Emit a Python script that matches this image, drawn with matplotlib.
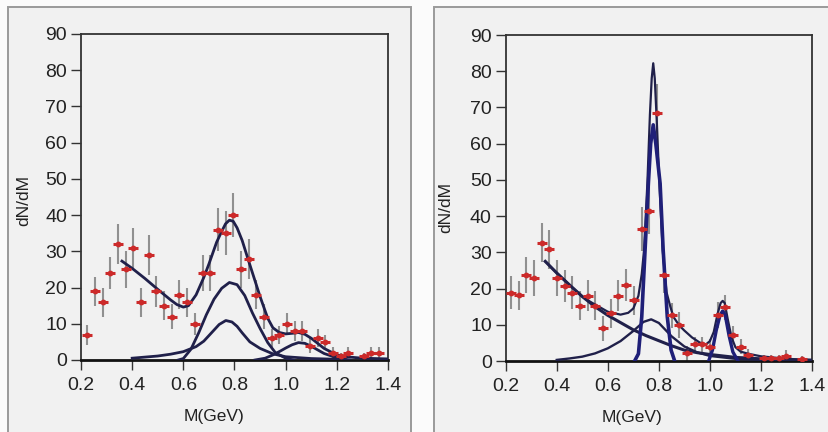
import matplotlib
matplotlib.use("Agg")
import matplotlib.pyplot as plt
from matplotlib.patches import Rectangle

# ---------------- data: left panel ----------------
left_x = [0.225, 0.255, 0.285, 0.315, 0.345, 0.375, 0.405, 0.435, 0.465, 0.495,
          0.525, 0.555, 0.585, 0.615, 0.645, 0.675, 0.705, 0.735, 0.765, 0.795,
          0.825, 0.855, 0.885, 0.915, 0.945, 0.975, 1.005, 1.035, 1.065, 1.095,
          1.125, 1.155, 1.185, 1.215, 1.245, 1.305, 1.335, 1.365]
left_y = [7, 19, 16, 24, 32, 25, 31, 16, 29, 19,
          15, 12, 18, 16, 10, 24, 24, 36, 35, 40,
          25, 28, 18, 12, 6, 7, 10, 8, 8, 4,
          6, 5, 2, 1, 2, 1, 2, 2]
left_err = [2.8, 4, 4, 4.5, 5.5, 5, 5.5, 4, 5.5, 4.3,
            4, 3.5, 4, 4, 3, 5, 5, 6, 6, 6,
            5, 5.5, 4, 3.5, 2.5, 2.5, 3, 2.8, 2.8, 2,
            2.5, 2, 1.5, 1, 1.5, 1, 1.5, 1.5]

left_total_x = [0.36, 0.40, 0.45, 0.50, 0.55, 0.575, 0.60, 0.62, 0.65, 0.68, 0.70, 0.73,
                0.75, 0.765, 0.78, 0.795, 0.81, 0.83, 0.85, 0.875, 0.90, 0.93, 0.95,
                0.975, 1.00, 1.03, 1.05, 1.075, 1.10, 1.15, 1.20, 1.25, 1.30, 1.40]
left_total_y = [27.3, 25.3, 22.5, 19.5, 16.6, 15.3, 14.6, 15.0, 18.0, 22.8, 26.5, 32.5,
                35.5, 37.6, 38.6, 38.3, 36.5, 33.0, 28.5, 23.0, 17.5, 11.5, 8.9,
                7.6, 7.2, 7.4, 7.6, 7.1, 6.0, 3.2, 1.4, 0.8, 0.5, 0.3]
left_rho_x = [0.58, 0.60, 0.63, 0.66, 0.69, 0.72, 0.75, 0.78, 0.81, 0.84, 0.87, 0.90,
              0.93, 0.96, 1.00, 1.03]
left_rho_y = [0.0, 0.4, 3.0, 7.5, 12.5, 16.8, 19.8, 21.4, 20.8, 17.8, 13.0, 8.7,
              4.8, 2.0, 0.5, 0.0]
left_omega_x = [0.40, 0.45, 0.50, 0.55, 0.60, 0.65, 0.68, 0.71, 0.74, 0.766, 0.79,
                0.81, 0.83, 0.86, 0.90, 0.95, 1.00, 1.10, 1.20]
left_omega_y = [0.5, 0.8, 1.1, 1.6, 2.3, 3.7, 5.2, 7.5, 9.8, 10.9, 10.5,
                9.3, 7.5, 5.0, 3.2, 1.7, 0.9, 0.4, 0.2]
left_phi_x = [0.88, 0.92, 0.95, 0.98, 1.00, 1.025, 1.05, 1.075, 1.10, 1.15, 1.20, 1.25]
left_phi_y = [0.0, 0.5, 1.4, 2.5, 3.3, 4.2, 4.8, 4.6, 3.8, 1.8, 0.6, 0.0]

# ---------------- data: right panel ----------------
right_x = [0.221, 0.251, 0.281, 0.311, 0.341, 0.371, 0.401, 0.431, 0.461, 0.491,
           0.521, 0.551, 0.581, 0.611, 0.641, 0.671, 0.701, 0.733, 0.760, 0.793,
           0.821, 0.850, 0.880, 0.910, 0.940, 0.970, 1.000, 1.030, 1.060, 1.090,
           1.120, 1.150, 1.210, 1.240, 1.270, 1.300, 1.360]
right_y = [18.9, 18.1, 23.7, 23.0, 32.7, 30.8, 23.0, 20.7, 18.9, 15.2,
           18.0, 15.2, 9.0, 13.2, 18.0, 21.0, 16.8, 36.5, 41.5, 68.4,
           23.7, 12.6, 9.9, 2.1, 4.6, 4.6, 4.0, 12.7, 14.8, 7.2,
           4.0, 1.7, 0.7, 0.7, 0.7, 1.5, 0.5]
right_err = [4.5, 4, 5, 5, 5.5, 5.5, 5, 4.5, 4.5, 4,
             4.3, 4, 3.5, 4, 4.3, 4.5, 4, 6, 6.5, 8,
             5, 3.5, 3.5, 2, 2, 2, 2, 3.5, 3.5, 2.5,
             2, 1.5, 1, 1, 1, 1.5, 0.8]

right_bg_x = [0.355, 0.40, 0.45, 0.50, 0.55, 0.60, 0.65, 0.70, 0.75, 0.80, 0.85,
              0.90, 0.95, 1.00, 1.10, 1.20, 1.30, 1.40]
right_bg_y = [27.5, 24.3, 21.0, 17.8, 15.0, 12.6, 10.6, 8.6, 7.0, 5.6, 4.2,
              3.0, 2.3, 1.8, 1.0, 0.6, 0.3, 0.2]
right_total_x = [0.355, 0.40, 0.45, 0.50, 0.53, 0.55, 0.60, 0.65, 0.68, 0.70, 0.72,
                 0.733, 0.742, 0.755, 0.765, 0.772, 0.778, 0.784, 0.792, 0.802, 0.815,
                 0.83, 0.845, 0.857, 0.88, 0.90, 0.93, 0.96, 0.985, 1.00, 1.015,
                 1.03, 1.042, 1.05, 1.058, 1.07, 1.085, 1.10, 1.12, 1.15, 1.20, 1.30, 1.40]
right_total_y = [27.5, 24.3, 21.0, 17.8, 16.4, 15.6, 13.6, 12.8, 13.3, 14.5, 18.0,
                 24.0, 30.6, 49.0, 68.0, 78.0, 82.2, 78.0, 66.0, 49.0, 30.6,
                 19.0, 15.0, 12.2, 9.8, 8.4, 6.5, 5.1, 4.6, 5.5, 8.0,
                 13.0, 16.0, 16.6, 16.0, 11.5, 6.5, 3.8, 2.6, 2.0, 1.3, 0.6, 0.3]
right_omega_x = [0.705, 0.72, 0.733, 0.746, 0.759, 0.768, 0.778, 0.788, 0.805, 0.817,
                 0.833, 0.848, 0.862]
right_omega_y = [0.0, 2.0, 12.2, 30.6, 49.0, 60.0, 65.2, 60.0, 49.0, 30.6,
                 12.2, 3.0, 0.0]
right_rho_x = [0.40, 0.45, 0.50, 0.55, 0.60, 0.65, 0.70, 0.74, 0.77, 0.80, 0.85,
               0.90, 0.95, 1.00, 1.10, 1.20]
right_rho_y = [0.3, 0.7, 1.2, 2.1, 3.5, 5.5, 8.3, 10.8, 11.5, 10.5, 6.8,
               4.0, 2.4, 1.4, 0.6, 0.3]
right_phi_x = [0.995, 1.01, 1.025, 1.04, 1.05, 1.06, 1.075, 1.09, 1.11]
right_phi_y = [0.0, 3.0, 8.5, 12.7, 13.8, 12.7, 7.0, 2.5, 0.0]

xticks = [0.2, 0.4, 0.6, 0.8, 1.0, 1.2, 1.4]
xticklabels = ["0.2", "0.4", "0.6", "0.8", "1.0", "1.2", "1.4"]
yticks = [0, 10, 20, 30, 40, 50, 60, 70, 80, 90]

# ---------------- figure ----------------
W, H = 829, 432
plt.rcParams["font.family"] = ["Liberation Sans", "DejaVu Sans"]
fig = plt.figure(figsize=(W / 100, H / 100), dpi=100, facecolor="#fbfbfb")

# panel boxes (drawn behind the axes)
for (x0, x1) in [(8, 411), (434, 835)]:
    fig.patches.append(Rectangle((x0 / W, -0.05), (x1 - x0) / W, (H - 7) / H + 0.05,
                                 transform=fig.transFigure, facecolor="#f1f1f1",
                                 edgecolor="#9a9a9a", linewidth=1.4, zorder=-10))

navy = "#20204a"
blue = "#1f1f78"
red = "#cc2a2a"
gray = "#909090"


def setup(ax, xlab_x, ylab_x, ylab_y):
    ax.set_facecolor("none")
    ax.set_xlim(0.2, 1.4)
    ax.set_ylim(0, 90)
    ax.set_xticks(xticks)
    ax.set_xticklabels(xticklabels)
    ax.set_yticks(yticks)
    ax.tick_params(axis="both", direction="out", length=7, width=1.0, color="#333333",
                   labelsize=14, labelcolor="#222222")
    ax.tick_params(axis="x", pad=5)
    ax.tick_params(axis="y", pad=3)
    for s in ["top", "right", "left"]:
        ax.spines[s].set_color("#333333")
        ax.spines[s].set_linewidth(1.3)
    ax.spines["bottom"].set_color("#111111")
    ax.spines["bottom"].set_linewidth(2.0)
    ax.set_xlabel("M(GeV)", fontsize=12.5, color="#222222")
    ax.set_ylabel("dN/dM", fontsize=12.5, color="#222222")
    ax.xaxis.set_label_coords(xlab_x, -0.15)
    ax.yaxis.set_label_coords(ylab_x, ylab_y)


def points(ax, x, y, e):
    ax.errorbar(x, y, yerr=e, fmt="none", ecolor=gray, elinewidth=1.5, capsize=0, zorder=2)
    ax.plot(x, y, linestyle="none", marker="_", markersize=6.5, markeredgewidth=2.2,
            color=red, zorder=4)
    ax.plot(x, y, linestyle="none", marker="o", markersize=4.2, color=red,
            markeredgewidth=0, zorder=4)


# left panel
axL = fig.add_axes([81 / W, (H - 360) / H, 307 / W, 326 / H])
setup(axL, 0.433, -0.163, 0.49)
points(axL, left_x, left_y, left_err)
for cx, cy in [(left_total_x, left_total_y), (left_rho_x, left_rho_y),
               (left_omega_x, left_omega_y), (left_phi_x, left_phi_y)]:
    axL.plot(cx, cy, color=navy, linewidth=2.0, zorder=3, solid_joinstyle="round")

# right panel
axR = fig.add_axes([505.7 / W, (H - 361) / H, 306.3 / W, 326 / H])
setup(axR, 0.413, -0.172, 0.47)
points(axR, right_x, right_y, right_err)
axR.plot(right_bg_x, right_bg_y, color=navy, linewidth=2.2, zorder=3)
axR.plot(right_rho_x, right_rho_y, color=navy, linewidth=1.7, zorder=3)
axR.plot(right_total_x, right_total_y, color=navy, linewidth=1.6, zorder=3,
         solid_joinstyle="round")
axR.plot(right_omega_x, right_omega_y, color=blue, linewidth=2.6, zorder=3,
         solid_joinstyle="round")
axR.plot(right_phi_x, right_phi_y, color=blue, linewidth=2.4, zorder=3,
         solid_joinstyle="round")

fig.savefig("out.png", dpi=100, facecolor=fig.get_facecolor())
